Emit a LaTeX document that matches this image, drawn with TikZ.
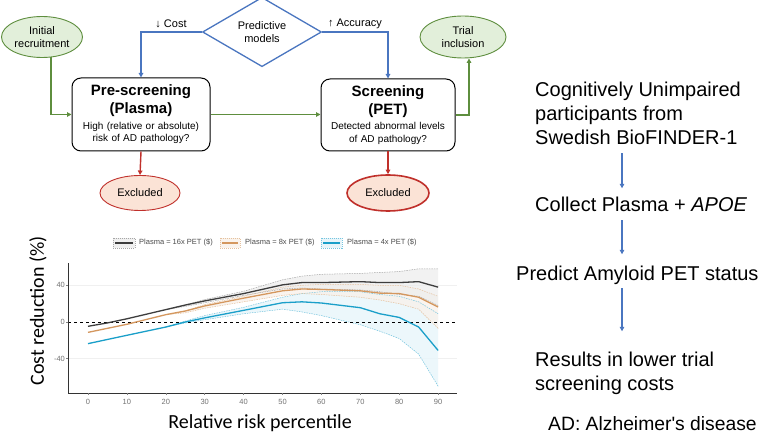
\documentclass[tikz,border=0pt]{standalone}
\usepackage{fontspec}
\setmainfont{Liberation Sans}
\newfontfamily\plainfont{Liberation Sans}[Ligatures=TeXOff]
\newfontfamily\calib{Carlito}
\usetikzlibrary{shapes.geometric,arrows.meta}
\definecolor{grn}{HTML}{5E8E3E}
\definecolor{grnfill}{HTML}{E2EFDA}
\definecolor{redc}{HTML}{C0302B}
\definecolor{redfill}{HTML}{FBE3D6}
\definecolor{bluc}{HTML}{4A76C0}
\definecolor{c16}{HTML}{3D3D3D}
\definecolor{c8}{HTML}{D4975E}
\definecolor{c4}{HTML}{1A9FC9}
\begin{document}
\begin{tikzpicture}[x=1pt,y=-1pt,
  arrtip/.style={-{Triangle[length=4.5pt,width=4.5pt]}},
  gline/.style={draw=grn,line width=1.4pt,arrtip},
  rline/.style={draw=redc,line width=1.4pt,arrtip},
  bline/.style={draw=bluc,line width=1.4pt,arrtip},
  gell/.style={ellipse,draw=grn,fill=grnfill,line width=0.9pt,inner sep=0pt,align=center,font=\fontsize{11}{13}\selectfont},
  rell/.style={ellipse,draw=redc,fill=redfill,line width=0.9pt,inner sep=0pt,font=\fontsize{11}{13}\selectfont},
  stepbox/.style={draw=black,rounded corners=9pt,line width=1pt,fill=white,inner sep=0pt,text width=134pt,align=center},
  lbl/.style={font=\fontsize{11}{13}\selectfont,inner sep=0pt},
  rtext/.style={font=\fontsize{20}{24}\selectfont,align=left,inner sep=0pt,anchor=base west},
  ticklab/.style={font=\fontsize{7.5}{9}\selectfont,text=black!55,inner sep=0pt},
  legtext/.style={font=\fontsize{7.5}{9}\selectfont,text=black!70,inner sep=0pt,anchor=west},
  legkey/.style={dash pattern=on 1pt off 1pt,line width=0.4pt},
  bound/.style={dash pattern=on 1.5pt off 1pt,line width=0.5pt}
]
\useasboundingbox (0,0) rectangle (760,435);
\fill[white] (0,0) rectangle (760,435);

% ---------- flow chart ----------
\node[gell,minimum width=81pt,minimum height=41pt] (init) at (42,37) {Initial\\recruitment};
\node[gell,minimum width=86pt,minimum height=42pt] (trial) at (463,37) {Trial\\inclusion};
\node[diamond,draw=bluc,line width=1.3pt,fill=white,inner sep=0pt,minimum width=119pt,minimum height=61pt,align=center,font=\fontsize{11}{13}\selectfont] (diam) at (262,32) {Predictive\\models};
\node[stepbox,minimum width=138pt,minimum height=73pt] (pre) at (141,114.5)
  {{\fontsize{15}{18}\selectfont\bfseries Pre-screening\\(Plasma)\par}\vspace{3pt}%
   {\fontsize{10}{12.5}\selectfont High (relative or absolute)\\risk of AD pathology?\par}};
\node[stepbox,minimum width=134pt,minimum height=72pt] (scr) at (388,115)
  {{\fontsize{15}{18}\selectfont\bfseries Screening\\(PET)\par}\vspace{3pt}%
   {\fontsize{10}{12.5}\selectfont Detected abnormal levels\\of AD pathology?\par}};
\node[rell,minimum width=80pt,minimum height=35pt] (exc1) at (140,193) {Excluded};
\node[rell,line width=1.6pt,minimum width=82pt,minimum height=36pt] (exc2) at (388,193) {Excluded};

\draw[gline] (init.-66) |- (pre.west);
\draw[gline] (pre.east) -- (pre.east -| scr.west);
\draw[gline] (scr.east) -| ([xshift=6pt]trial.south);
\draw[rline] (pre.south) -- (exc1.north);
\draw[rline] (scr.south) -- (exc2.north);
\draw[bline] (diam.west) -| (pre.north);
\draw[bline] (diam.east) -| (scr.north);
\node[lbl] (lcost) at (171,24) {↓ Cost};
\node[lbl] (lacc) at (355,24) {↑ Accuracy};

% ---------- legend ----------
\fill[gray!12] (113,238) rectangle (135,248);
\draw[legkey,draw=gray!70] (113,238) rectangle (135,248);
\draw[c16,line width=1.2pt] (115,243) -- (133,243);
\node[legtext] (lg1) at (139,243) {Plasma = 16x PET (\$)};
\fill[c8!12] (220,238) rectangle (240,248);
\draw[legkey,draw=c8!60] (220,238) rectangle (240,248);
\draw[c8,line width=1.2pt] (222,243) -- (238,243);
\node[legtext] (lg2) at (245,243) {Plasma = 8x PET (\$)};
\fill[c4!10] (321,238) rectangle (342,248);
\draw[legkey,draw=c4!60] (321,238) rectangle (342,248);
\draw[c4,line width=1.2pt] (323,243) -- (340,243);
\node[legtext] (lg3) at (347,243) {Plasma = 4x PET (\$)};

% ---------- chart ----------
\begin{scope}[shift={(88,322)},x=3.89pt,y=0.917pt]
  \draw[gray!12,line width=0.6pt] (-5.14,40) -- (94.9,40);
  \draw[gray!12,line width=0.6pt] (-5.14,-40) -- (94.9,-40);
  % bands
  \fill[c4!10,opacity=0.8] plot coordinates {(20,-5.5) (25,1) (30,7) (40,16) (50,27) (55,31) (60,33) (70,33) (75,30) (80,28) (85,22) (90,9)}
     -- plot coordinates {(90,-70) (85,-35) (80,-18) (75,-10) (70,-3) (60,7) (55,11) (50,14) (40,9) (30,2.5) (25,-1) (20,-5.5)} -- cycle;
  \fill[c8!14,opacity=0.7] plot coordinates {(20,8) (25,12) (30,19) (40,28) (50,38) (55,40) (60,41) (70,41) (75,40) (80,40) (85,36) (90,28)}
     -- plot coordinates {(90,-7) (85,14) (80,20) (75,24) (70,27) (60,30) (55,31) (50,29) (40,22) (30,15) (25,10) (20,8)} -- cycle;
  \fill[gray!14,opacity=0.7] plot coordinates {(20,13.5) (25,18.5) (30,24.5) (40,33.5) (50,46) (55,50) (60,52) (70,53) (75,54) (80,55) (85,58) (90,58)}
     -- plot coordinates {(90,18) (85,28) (80,30) (75,33) (70,35) (60,36) (55,37) (50,36) (40,29) (30,21) (25,17) (20,13.5)} -- cycle;
  % bounds
  \draw[bound,c4!60] plot coordinates {(20,-5.5) (25,1) (30,7) (40,16) (50,27) (55,31) (60,33) (70,33) (75,30) (80,28) (85,22) (90,9)};
  \draw[bound,c4!60] plot coordinates {(90,-70) (85,-35) (80,-18) (75,-10) (70,-3) (60,7) (55,11) (50,14) (40,9) (30,2.5) (25,-1) (20,-5.5)};
  \draw[bound,c8!60] plot coordinates {(20,8) (25,12) (30,19) (40,28) (50,38) (55,40) (60,41) (70,41) (75,40) (80,40) (85,36) (90,28)};
  \draw[bound,c8!60] plot coordinates {(90,-7) (85,14) (80,20) (75,24) (70,27) (60,30) (55,31) (50,29) (40,22) (30,15) (25,10) (20,8)};
  \draw[bound,gray!70] plot coordinates {(20,13.5) (25,18.5) (30,24.5) (40,33.5) (50,46) (55,50) (60,52) (70,53) (75,54) (80,55) (85,58) (90,58)};
  \draw[bound,gray!70] plot coordinates {(90,18) (85,28) (80,30) (75,33) (70,35) (60,36) (55,37) (50,36) (40,29) (30,21) (25,17) (20,13.5)};
  % zero line
  \draw[black,dashed,line width=0.9pt] (-5.14,0) -- (94.9,0);
  % main lines
  \draw[c16,line width=1.3pt,line join=round] plot coordinates {(0,-4.7) (5,-1) (10,3.5) (20,13.5) (25,18.5) (30,23) (40,31) (50,40.5) (55,43) (60,43) (70,44) (75,43) (80,43) (85,44) (90,38)};
  \draw[c8,line width=1.3pt,line join=round] plot coordinates {(0,-11.3) (10,-2.5) (20,8) (25,12) (30,17.5) (40,26) (50,34) (55,36) (60,35.5) (70,34) (75,31.5) (80,31) (85,27) (90,16.4)};
  \draw[c4,line width=1.3pt,line join=round] plot coordinates {(0,-23.6) (10,-14.5) (20,-5.5) (25,0) (30,4.5) (40,12.7) (50,21) (55,22) (60,20.7) (70,15.6) (75,9) (80,5) (85,-5.5) (90,-31)};
  % axes
  \draw[black!80,line width=0.8pt] (-5.14,64.3) -- (-5.14,-77.4) -- (94.9,-77.4);
  \foreach \p in {0,10,...,90} {
    \draw[black!50,line width=0.5pt] (\p,-77.4) -- (\p,-80);
    \node[ticklab] (xt\p) at (\p,-87.2) {\p};
  }
  \foreach \v/\t in {40/40,0/0,-40/-40} {
    \draw[black!50,line width=0.5pt] (-5.14,\v) -- (-5.7,\v);
    \node[ticklab,anchor=east] (yt\t) at (-5.9,\v) {\t};
  }
\end{scope}
\node[font=\calib\fontsize{20}{24}\selectfont,rotate=90,inner sep=0pt] (ylab) at (38,311) {Cost reduction (\%)};
\node[font=\calib\fontsize{20}{24}\selectfont,inner sep=0pt] (xlab) at (260,423) {Relative risk percentile};

% ---------- right column ----------
\node[rtext] (t1) at (535,145) {Cognitively Unimpaired\\participants from\\Swedish BioFINDER-1};
\node[rtext] (t2) at (535,212) {Collect Plasma + \textit{APOE}};
\node[rtext] (t3) at (516,281) {Predict Amyloid PET status};
\node[rtext] (t4) at (535,390) {Results in lower trial\\screening costs};
\node[rtext,font=\plainfont\fontsize{19.3}{23}\selectfont] (t5) at (548,430.5) {AD: Alzheimer's disease};
\coordinate (ax) at (622,0);
\draw[bline,shorten <=8pt,shorten >=9pt] (t1.south -| ax) -- (t2.north -| ax);
\draw[bline,shorten <=8pt,shorten >=12pt] (t2.south -| ax) -- (t3.north -| ax);
\draw[bline,shorten <=3pt,shorten >=20pt] (t3.south -| ax) -- (t4.north -| ax);
\end{tikzpicture}
\end{document}
